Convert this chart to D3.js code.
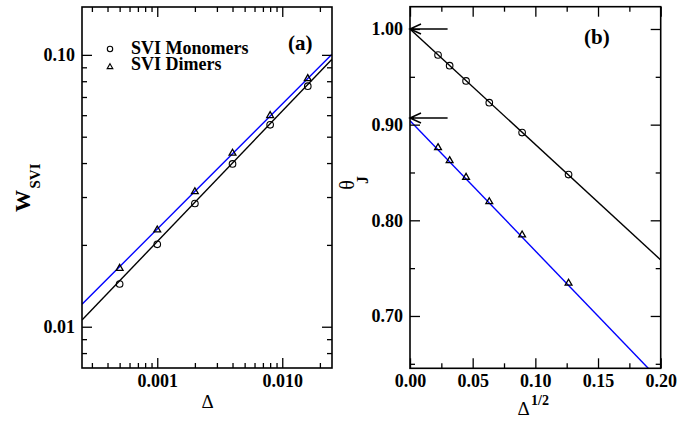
<!DOCTYPE html>
<html>
<head>
<meta charset="utf-8">
<script src="https://cdn.jsdelivr.net/npm/d3@7"></script>
<style>
  html, body { margin: 0; padding: 0; background: #fff; }
  svg { display: block; }
  text { font-family: "Liberation Serif", "Times New Roman", serif; }
</style>
</head>
<body>
<svg id="chart" width="694" height="421"></svg>
<script>
// ---- Panel (a): width of SVI peak vs. Delta (log-log) ----
const deltaA = [0.0005, 0.001, 0.002, 0.004, 0.008, 0.016];
const wMonomers = [0.01436, 0.0201, 0.0284, 0.0397, 0.0553, 0.0767];
const wDimers = [0.0164, 0.0227, 0.0314, 0.0435, 0.0598, 0.0818];
const fitDeltaA = [0.00025, 0.025];
const fitMonomersA = [0.01058, 0.0964];
const fitDimersA = [0.01209, 0.1006];
const xTicksA = [0.001, 0.01];
const xTickLabelsA = ["0.001", "0.010"];
const yTicksA = [0.01, 0.1];
const yTickLabelsA = ["0.01", "0.10"];

// ---- Panel (b): theta_J vs. sqrt(Delta) ----
const sqrtDelta = [0.02236, 0.03162, 0.04472, 0.06325, 0.08944, 0.12649];
const thetaMonomers = [0.9728, 0.9617, 0.9457, 0.9230, 0.8917, 0.8478];
const thetaDimers = [0.8760, 0.8624, 0.8450, 0.8195, 0.7847, 0.7343];
const fitSqrtB = [0.0, 0.2];
const fitMonomersB = [1.0, 0.7586];
const fitDimersB = [0.9042, 0.6318];
const arrowLevels = [1.0, 0.907];
const xTicksB = [0, 0.05, 0.10, 0.15, 0.20];
const xTickLabelsB = ["0.00", "0.05", "0.10", "0.15", "0.20"];
const xMinorB = [0.025, 0.075, 0.125, 0.175];
const yTicksB = [0.70, 0.80, 0.90, 1.00];
const yTickLabelsB = ["0.70", "0.80", "0.90", "1.00"];
const yMinorB = [0.65, 0.75, 0.85, 0.95];

const legendLabels = ["SVI Monomers", "SVI Dimers"];

const svg = d3.select("#chart");
const FONT = '"Liberation Serif", "Times New Roman", serif';
const MAJ = 10, MIN = 5;

function styleAxis(g, fontSize) {
  g.select(".domain").remove();
  g.selectAll(".tick line").attr("stroke", "#000").attr("stroke-width", 1.3);
  g.selectAll(".tick text")
    .attr("fill", "#000")
    .attr("font-family", FONT)
    .attr("font-weight", "bold")
    .attr("font-size", fontSize);
}

function drawTicks(x, y, xMajor, xLabels, xMinor, yMajor, yLabels, yMinor, box) {
  const fmtX = d => xLabels[xMajor.indexOf(d)];
  const fmtY = d => yLabels[yMajor.indexOf(d)];
  // bottom
  svg.append("g").attr("transform", `translate(0,${box.b})`)
    .call(d3.axisBottom(x).tickValues(xMajor).tickFormat(fmtX).tickSizeInner(-MAJ).tickSizeOuter(0).tickPadding(6))
    .call(g => styleAxis(g, 18));
  svg.append("g").attr("transform", `translate(0,${box.b})`)
    .call(d3.axisBottom(x).tickValues(xMinor).tickFormat("").tickSizeInner(-MIN).tickSizeOuter(0))
    .call(g => styleAxis(g, 18));
  // top
  svg.append("g").attr("transform", `translate(0,${box.t})`)
    .call(d3.axisTop(x).tickValues(xMajor).tickFormat("").tickSizeInner(-MAJ).tickSizeOuter(0))
    .call(g => styleAxis(g, 18));
  svg.append("g").attr("transform", `translate(0,${box.t})`)
    .call(d3.axisTop(x).tickValues(xMinor).tickFormat("").tickSizeInner(-MIN).tickSizeOuter(0))
    .call(g => styleAxis(g, 18));
  // left
  svg.append("g").attr("transform", `translate(${box.l},0)`)
    .call(d3.axisLeft(y).tickValues(yMajor).tickFormat(fmtY).tickSizeInner(-MAJ).tickSizeOuter(0).tickPadding(7))
    .call(g => styleAxis(g, 18));
  svg.append("g").attr("transform", `translate(${box.l},0)`)
    .call(d3.axisLeft(y).tickValues(yMinor).tickFormat("").tickSizeInner(-MIN).tickSizeOuter(0))
    .call(g => styleAxis(g, 18));
  // right
  svg.append("g").attr("transform", `translate(${box.r},0)`)
    .call(d3.axisRight(y).tickValues(yMajor).tickFormat("").tickSizeInner(-MAJ).tickSizeOuter(0))
    .call(g => styleAxis(g, 18));
  svg.append("g").attr("transform", `translate(${box.r},0)`)
    .call(d3.axisRight(y).tickValues(yMinor).tickFormat("").tickSizeInner(-MIN).tickSizeOuter(0))
    .call(g => styleAxis(g, 18));
  // frame
  svg.append("rect")
    .attr("x", box.l).attr("y", box.t)
    .attr("width", box.r - box.l).attr("height", box.b - box.t)
    .attr("fill", "none").attr("stroke", "#000").attr("stroke-width", 1.6);
}

function drawCircles(g, xs, ys, x, y, r) {
  g.selectAll(null).data(xs).join("circle")
    .attr("cx", d => x(d)).attr("cy", (d, i) => y(ys[i]))
    .attr("r", r).attr("fill", "none").attr("stroke", "#000").attr("stroke-width", 1.1);
}
function drawTriangles(g, xs, ys, x, y, size) {
  const sym = d3.symbol(d3.symbolTriangle, size);
  g.selectAll(null).data(xs).join("path")
    .attr("transform", (d, i) => `translate(${x(d)},${y(ys[i])})`)
    .attr("d", sym).attr("fill", "none").attr("stroke", "#000").attr("stroke-width", 1.3);
}

// ================= Panel (a) =================
const boxA = { l: 82, r: 332, t: 7, b: 368 };
const xA = d3.scaleLog().domain([0.00025, 0.025]).range([boxA.l, boxA.r]);
const yA = d3.scaleLog().domain([0.00705, 0.15]).range([boxA.b, boxA.t]);

svg.append("clipPath").attr("id", "clipA").append("rect")
  .attr("x", boxA.l).attr("y", boxA.t).attr("width", boxA.r - boxA.l).attr("height", boxA.b - boxA.t);
const gA = svg.append("g").attr("clip-path", "url(#clipA)");

const lineA = (vals) => d3.line().x((d, i) => xA(fitDeltaA[i])).y(d => yA(d))(vals);
gA.append("path").attr("d", lineA(fitDimersA)).attr("fill", "none").attr("stroke", "#0000ff").attr("stroke-width", 1.4);
gA.append("path").attr("d", lineA(fitMonomersA)).attr("fill", "none").attr("stroke", "#000").attr("stroke-width", 1.4);
drawCircles(gA, deltaA, wMonomers, xA, yA, 3.3);
drawTriangles(gA, deltaA, wDimers, xA, yA, 20);

const minorXA = xA.ticks().filter(d => !xTicksA.some(m => Math.abs(m - d) / m < 1e-9));
const minorYA = yA.ticks().filter(d => !yTicksA.some(m => Math.abs(m - d) / m < 1e-9));
drawTicks(xA, yA, xTicksA, xTickLabelsA, minorXA, yTicksA, yTickLabelsA, minorYA, boxA);

// legend
const legend = svg.append("g");
legend.append("circle").attr("cx", 110).attr("cy", 49).attr("r", 2.7)
  .attr("fill", "none").attr("stroke", "#000").attr("stroke-width", 1.1);
legend.append("path").attr("transform", "translate(110,67)")
  .attr("d", d3.symbol(d3.symbolTriangle, 14)).attr("fill", "none").attr("stroke", "#000").attr("stroke-width", 1.1);
legend.selectAll("text.lg").data(legendLabels).join("text").attr("class", "lg")
  .attr("x", 131).attr("y", (d, i) => 53.5 + i * 16.7)
  .attr("font-size", 18).attr("font-weight", "bold").text(d => d);

svg.append("text").attr("x", 288).attr("y", 50)
  .attr("font-size", 21).attr("font-weight", "bold").text("(a)");

// axis titles
svg.append("text").attr("transform", "translate(30,201) rotate(-90)")
  .attr("text-anchor", "middle").attr("font-size", 22).attr("font-weight", "bold").text("W");
svg.append("text").attr("transform", "translate(40,176) rotate(-90)")
  .attr("text-anchor", "middle").attr("font-size", 15).attr("font-weight", "bold").text("SVI");
svg.append("text").attr("x", 207.5).attr("y", 407.5)
  .attr("text-anchor", "middle").attr("font-size", 19).text("Δ");

// ================= Panel (b) =================
const boxB = { l: 410, r: 660.7, t: 6.7, b: 368.3 };
const xB = d3.scaleLinear().domain([0, 0.2]).range([boxB.l, boxB.r]);
const yB = d3.scaleLinear().domain([0.6453, 1.0233]).range([boxB.b, boxB.t]);

svg.append("clipPath").attr("id", "clipB").append("rect")
  .attr("x", boxB.l).attr("y", boxB.t).attr("width", boxB.r - boxB.l).attr("height", boxB.b - boxB.t);
const gB = svg.append("g").attr("clip-path", "url(#clipB)");

const lineB = (vals) => d3.line().x((d, i) => xB(fitSqrtB[i])).y(d => yB(d))(vals);
gB.append("path").attr("d", lineB(fitDimersB)).attr("fill", "none").attr("stroke", "#0000ff").attr("stroke-width", 1.4);
gB.append("path").attr("d", lineB(fitMonomersB)).attr("fill", "none").attr("stroke", "#000").attr("stroke-width", 1.4);
drawCircles(gB, sqrtDelta, thetaMonomers, xB, yB, 3.3);
drawTriangles(gB, sqrtDelta, thetaDimers, xB, yB, 20);

drawTicks(xB, yB, xTicksB, xTickLabelsB, xMinorB, yTicksB, yTickLabelsB, yMinorB, boxB);

// arrows marking the extrapolated intercepts
arrowLevels.forEach(v => {
  const y0 = yB(v), x0 = xB(0), x1 = xB(0.03);
  svg.append("path")
    .attr("d", `M${x1},${y0}L${x0},${y0}M${x0 + 11},${y0 - 5}L${x0},${y0}L${x0 + 11},${y0 + 5}`)
    .attr("fill", "none").attr("stroke", "#000").attr("stroke-width", 1.5);
});

svg.append("text").attr("x", 584).attr("y", 44)
  .attr("font-size", 21).attr("font-weight", "bold").text("(b)");

svg.append("text").attr("transform", "translate(354,185) rotate(-90)")
  .attr("text-anchor", "middle").attr("font-size", 20).text("θ");
svg.append("text").attr("transform", "translate(368,180) rotate(-90)")
  .attr("text-anchor", "middle").attr("font-size", 16).attr("font-weight", "bold").text("J");

svg.append("text").attr("x", 517.5).attr("y", 415)
  .attr("font-size", 19).text("Δ");
svg.append("text").attr("x", 531).attr("y", 405)
  .attr("font-size", 14).attr("font-weight", "bold").text("1/2");
</script>
</body>
</html>
